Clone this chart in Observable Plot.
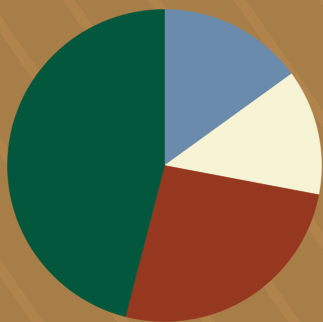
<!DOCTYPE html>
<html>
<head>
<meta charset="utf-8">
<script src="https://cdn.jsdelivr.net/npm/d3@7"></script>
<script src="https://cdn.jsdelivr.net/npm/@observablehq/plot@0.6"></script>
<style>
  html, body { margin: 0; padding: 0; }
  body {
    width: 323px; height: 322px; overflow: hidden;
    background-color: #a87e48;
    background-image:
      repeating-linear-gradient(55deg, rgba(195,142,84,0) 0px, rgba(195,142,84,0) 26px, rgba(195,142,84,0.35) 26px, rgba(195,142,84,0.35) 36px, rgba(195,142,84,0) 36px, rgba(195,142,84,0) 70px);
  }
  #chart svg { display: block; background: transparent; }
</style>
</head>
<body>
<div id="chart"></div>
<script>
const categories = ["A", "B", "C", "D"];
const values = [15, 13, 26, 46];
const colors = ["#6a8bab", "#f6f4d4", "#963720", "#02573d"];

const pieData = categories.map((c, i) => ({category: c, value: values[i]}));
const arcs = d3.pie().sort(null).value(d => d.value)(pieData);

// Build polygon outlines for each slice (angles from d3.pie, clockwise from 12 o'clock)
const pts = [];
arcs.forEach(a => {
  const cat = a.data.category;
  pts.push({category: cat, x: 0, y: 0});
  const n = Math.max(8, Math.ceil((a.endAngle - a.startAngle) / 0.01));
  for (let k = 0; k <= n; k++) {
    const t = a.startAngle + (a.endAngle - a.startAngle) * k / n;
    pts.push({category: cat, x: Math.sin(t), y: Math.cos(t)});
  }
  pts.push({category: cat, x: 0, y: 0});
});

const chart = Plot.plot({
  width: 323,
  height: 322,
  marginLeft: 7,
  marginRight: 2,
  marginTop: 9,
  marginBottom: 1,
  x: {domain: [-1, 1], axis: null},
  y: {domain: [-1, 1], axis: null},
  color: {domain: categories, range: colors},
  style: {background: "transparent"},
  marks: [
    Plot.line(pts, {x: "x", y: "y", z: "category", fill: "category", stroke: "category", strokeWidth: 0.5, curve: "linear-closed"})
  ]
});
document.getElementById("chart").appendChild(chart);
</script>
</body>
</html>
